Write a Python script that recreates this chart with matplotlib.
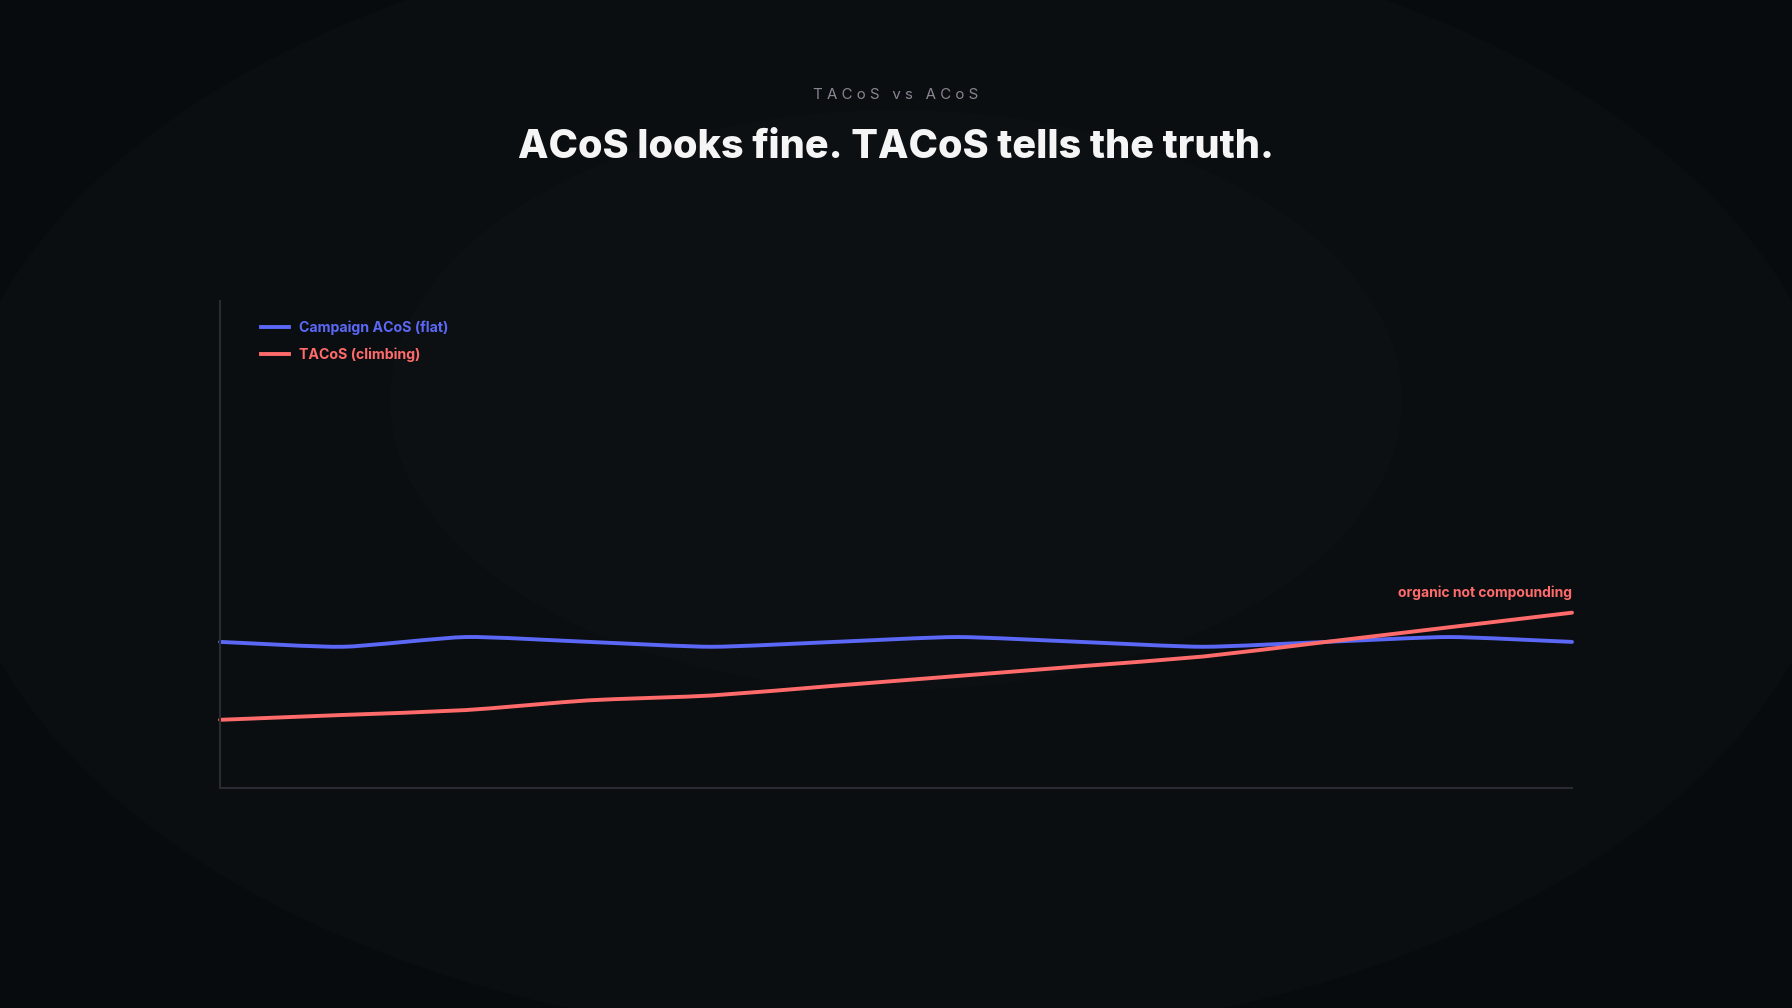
import numpy as np
import matplotlib
matplotlib.use("Agg")
import matplotlib.pyplot as plt
from matplotlib.patches import Ellipse, PathPatch
from matplotlib.path import Path
from matplotlib.lines import Line2D

plt.rcParams['font.family'] = ['Inter', 'DejaVu Sans']

# data (percent, 12 periods)
periods = list(range(12))
acos = [30, 29, 31, 30, 29, 30, 31, 30, 29, 30, 31, 30]
tacos = [14, 15, 16, 18, 19, 21, 23, 25, 27, 30, 33, 36]

BG = '#080b0d'
BLUE = '#5b68f6'
RED = '#ff6b6b'
SPINE = '#2a2a32'

W, H = 1792, 1008
fig = plt.figure(figsize=(W / 100, H / 100), dpi=100, facecolor=BG)

# soft background glows
fig.patches.append(Ellipse((896 / W, 1 - 481 / H), 2 * 946 / W, 2 * 562 / H,
                           transform=fig.transFigure, facecolor='#0b0e11',
                           edgecolor='none', zorder=-10))
fig.patches.append(Ellipse((896 / W, 1 - 400 / H), 2 * 506 / W, 2 * 290 / H,
                           transform=fig.transFigure, facecolor='#0d1013',
                           edgecolor='none', zorder=-9))

ax = fig.add_axes([220 / W, 220 / H, 1352 / W, 487 / H])
ax.set_facecolor('none')
ax.set_xlim(0, 11)
ax.set_ylim(0, 100)
for s in ['top', 'right']:
    ax.spines[s].set_visible(False)
for s in ['left', 'bottom']:
    ax.spines[s].set_color(SPINE)
    ax.spines[s].set_linewidth(1.5)
ax.set_xticks([])
ax.set_yticks([])


def smooth_path(xs, ys, tension=0.2, sx=122.9, sy=4.87):
    # bezier through the points, control points like a cardinal spline
    px = np.asarray(xs, float) * sx
    py = np.asarray(ys, float) * sy
    n = len(px)
    verts = [(px[0], py[0])]
    codes = [Path.MOVETO]
    cps = []
    for i in range(n):
        p0 = (px[max(i - 1, 0)], py[max(i - 1, 0)])
        p2 = (px[min(i + 1, n - 1)], py[min(i + 1, n - 1)])
        d01 = np.hypot(px[i] - p0[0], py[i] - p0[1])
        d12 = np.hypot(p2[0] - px[i], p2[1] - py[i])
        tot = d01 + d12 if d01 + d12 else 1
        fa = tension * d01 / tot
        fb = tension * d12 / tot
        dx, dy = p2[0] - p0[0], p2[1] - p0[1]
        cps.append(((px[i] - fa * dx, py[i] - fa * dy),
                    (px[i] + fb * dx, py[i] + fb * dy)))
    for i in range(1, n):
        verts += [cps[i - 1][1], cps[i][0], (px[i], py[i])]
        codes += [Path.CURVE4] * 3
    verts = [(x / sx, y / sy) for x, y in verts]
    return Path(verts, codes)


for ys, col in [(acos, BLUE), (tacos, RED)]:
    ax.add_patch(PathPatch(smooth_path(periods, ys), facecolor='none',
                           edgecolor=col, lw=2.8, capstyle='round',
                           joinstyle='round', clip_on=False))

handles = [Line2D([], [], color=BLUE, lw=2.8),
           Line2D([], [], color=RED, lw=2.8)]
leg = ax.legend(handles, ['Campaign ACoS (flat)', 'TACoS (climbing)'],
                loc='upper left', bbox_to_anchor=(0.0303, 0.960),
                frameon=False, borderpad=0, borderaxespad=0,
                handlelength=2.0, handletextpad=0.65, labelspacing=0.85,
                prop={'size': 10.2, 'weight': 'bold'})
for t, c in zip(leg.get_texts(), [BLUE, RED]):
    t.set_color(c)

ax.text(11, 40, 'organic not compounding', color=RED, fontsize=10,
        fontweight='bold', ha='right', va='center')

fig.text(0.5, 1 - 95 / H, 'T A C o S   v s   A C o S', color='#8a8592',
         fontsize=10.8, ha='center', va='center')
fig.text(0.5, 1 - 147 / H, 'ACoS looks fine. TACoS tells the truth.',
         color='#f5f5f5', fontsize=28.5, fontweight='heavy',
         ha='center', va='center')

fig.savefig('out.png', dpi=100, facecolor=BG)
